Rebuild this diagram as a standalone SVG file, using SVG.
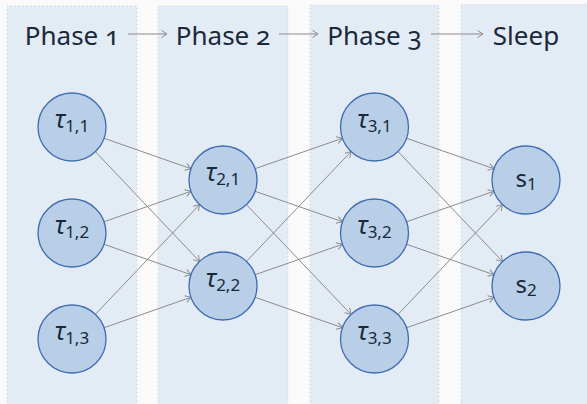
<svg xmlns="http://www.w3.org/2000/svg" width="587" height="404" viewBox="0 0 587 404">
  <style>
    .panel { fill: #e3ebf5; stroke: #c3d1e4; stroke-width: 1; stroke-dasharray: 1 3; }
    .head { font-family: "Noto Sans", "Open Sans", sans-serif; font-size: 26px; fill: #18293a; text-anchor: middle; font-variant-numeric: oldstyle-nums; }
    .node circle { fill: #b9cfe7; stroke: #3f6db3; stroke-width: 1.3; }
    .lbl { font-family: "Noto Sans", "DejaVu Sans", sans-serif; font-size: 24px; fill: #18293a; text-anchor: middle; }
    .tau { font-style: italic; font-size: 25px; }
    .sub { font-size: 17px; }
    .edges line { stroke: #8c8c8c; stroke-width: 1; fill: none; marker-end: url(#arrow); }
  </style>
  <defs>
    <marker id="arrow" markerUnits="userSpaceOnUse" markerWidth="10" markerHeight="10" refX="6.5" refY="4" orient="auto">
      <path d="M1,0.5 L6.5,4 L1,7.5" fill="none" stroke="#8c8c8c" stroke-width="1"/>
    </marker>
  </defs>

  <rect width="587" height="404" fill="#fafafa"/>

  <!-- column panels -->
  <g id="panels">
    <rect class="panel" x="7" y="6" width="130" height="400"/>
    <rect class="panel" x="158" y="6" width="130" height="400"/>
    <rect class="panel" x="310" y="5" width="129" height="401"/>
    <rect class="panel" x="461" y="4.5" width="130" height="402"/>
  </g>

  <!-- column headings -->
  <g id="headings">
    <text class="head" x="72" y="45">Phase 1</text>
    <text class="head" x="223" y="45">Phase 2</text>
    <text class="head" x="374.5" y="45">Phase 3</text>
    <text class="head" x="526" y="45">Sleep</text>
  </g>

  <g class="edges" id="edges">
    <!-- heading arrows -->
    <line x1="128" y1="34" x2="167" y2="34"/>
    <line x1="279" y1="34" x2="318" y2="34"/>
    <line x1="431" y1="34" x2="483" y2="34"/>
    <!-- phase 1 to phase 2 -->
    <line x1="104.1" y1="138.3" x2="190.9" y2="168.7"/>
    <line x1="95.4" y1="151.7" x2="199.6" y2="261.4"/>
    <line x1="104.1" y1="221.7" x2="190.9" y2="191.3"/>
    <line x1="104.1" y1="244.3" x2="190.9" y2="274.7"/>
    <line x1="95.4" y1="314.3" x2="199.6" y2="204.6"/>
    <line x1="104.1" y1="327.7" x2="190.9" y2="297.3"/>
    <!-- phase 2 to phase 3 -->
    <line x1="255.1" y1="168.7" x2="342.4" y2="138.3"/>
    <line x1="255.1" y1="191.3" x2="342.4" y2="221.7"/>
    <line x1="246.4" y1="204.6" x2="351.0" y2="314.4"/>
    <line x1="246.4" y1="261.4" x2="351.0" y2="151.6"/>
    <line x1="255.1" y1="274.7" x2="342.4" y2="244.3"/>
    <line x1="255.1" y1="297.3" x2="342.4" y2="327.7"/>
    <!-- phase 3 to sleep -->
    <line x1="406.6" y1="138.3" x2="493.9" y2="168.7"/>
    <line x1="398.0" y1="151.6" x2="502.5" y2="261.4"/>
    <line x1="406.6" y1="221.7" x2="493.9" y2="191.3"/>
    <line x1="406.6" y1="244.3" x2="493.9" y2="274.7"/>
    <line x1="398.0" y1="314.4" x2="502.5" y2="204.6"/>
    <line x1="406.6" y1="327.7" x2="493.9" y2="297.3"/>
  </g>

  <!-- phase 1 -->
  <g class="node" id="t11">
    <circle cx="72" cy="127" r="34"/>
    <text class="lbl" x="72" y="128"><tspan class="tau">τ</tspan><tspan class="sub" dy="4">1,1</tspan></text>
  </g>
  <g class="node" id="t12">
    <circle cx="72" cy="233" r="34"/>
    <text class="lbl" x="72" y="234"><tspan class="tau">τ</tspan><tspan class="sub" dy="4">1,2</tspan></text>
  </g>
  <g class="node" id="t13">
    <circle cx="72" cy="339" r="34"/>
    <text class="lbl" x="72" y="340"><tspan class="tau">τ</tspan><tspan class="sub" dy="4">1,3</tspan></text>
  </g>

  <!-- phase 2 -->
  <g class="node" id="t21">
    <circle cx="223" cy="180" r="34"/>
    <text class="lbl" x="223" y="181"><tspan class="tau">τ</tspan><tspan class="sub" dy="4">2,1</tspan></text>
  </g>
  <g class="node" id="t22">
    <circle cx="223" cy="286" r="34"/>
    <text class="lbl" x="223" y="287"><tspan class="tau">τ</tspan><tspan class="sub" dy="4">2,2</tspan></text>
  </g>

  <!-- phase 3 -->
  <g class="node" id="t31">
    <circle cx="374.5" cy="127" r="34"/>
    <text class="lbl" x="374.5" y="128"><tspan class="tau">τ</tspan><tspan class="sub" dy="4">3,1</tspan></text>
  </g>
  <g class="node" id="t32">
    <circle cx="374.5" cy="233" r="34"/>
    <text class="lbl" x="374.5" y="234"><tspan class="tau">τ</tspan><tspan class="sub" dy="4">3,2</tspan></text>
  </g>
  <g class="node" id="t33">
    <circle cx="374.5" cy="339" r="34"/>
    <text class="lbl" x="374.5" y="340"><tspan class="tau">τ</tspan><tspan class="sub" dy="4">3,3</tspan></text>
  </g>

  <!-- sleep -->
  <g class="node" id="s1">
    <circle cx="526" cy="180" r="34"/>
    <text class="lbl" x="526" y="187">s<tspan class="sub" dy="3">1</tspan></text>
  </g>
  <g class="node" id="s2">
    <circle cx="526" cy="286" r="34"/>
    <text class="lbl" x="526" y="293">s<tspan class="sub" dy="3">2</tspan></text>
  </g>
</svg>
